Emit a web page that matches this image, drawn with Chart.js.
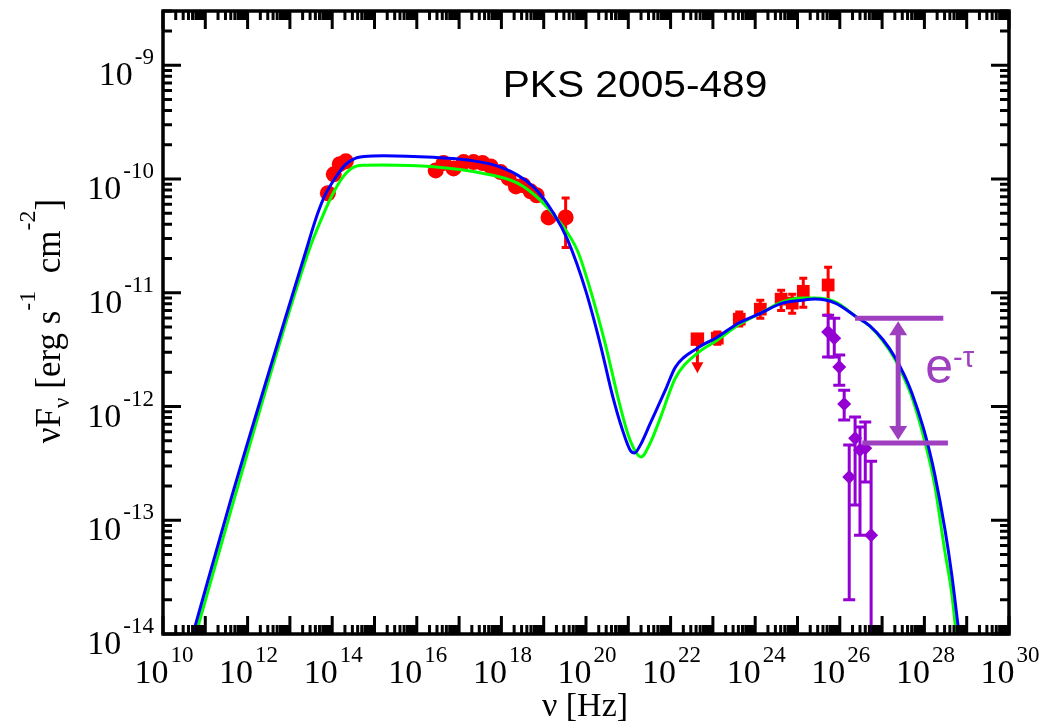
<!DOCTYPE html>
<html><head><meta charset="utf-8">
<script src="https://cdn.jsdelivr.net/npm/chart.js@4.4.1/dist/chart.umd.min.js"></script>
<style>html,body{margin:0;padding:0;background:#fff;} #wrap{width:1055px;height:724px;position:relative;}</style>
</head><body><div id="wrap"><canvas id="c" width="1055" height="724"></canvas></div>
<script>
// ---- model curves (nu [Hz], nuFnu [erg s^-1 cm^-2]) ----
const blueNu   = [5.1e10, 4.0e11, 2.4e13, 4.42e13, 6.82e13, 1.18e14, 2.03e14, 3.49e14, 8.8e14, 1.65e15, 2.5e16, 1.59e17, 9.6e17, 5.8e18, 1.71e19, 3.7e19, 9.8e19, 2.2e20, 4.2e20, 7.3e20, 1.12e21, 1.40e21, 1.94e21, 3.3e21, 7.5e21, 1.30e22, 4.3e22, 1.27e23, 3.99e23, 1.32e24, 4.4e24, 1.29e25, 2.6e25, 7.8e25, 2.52e26, 5.12e26, 1.04e27, 2.0e27, 3.44e27, 5.03e27, 9.14e27, 1.34e28, 1.76e28, 3.03e28, 4.44e28, 6.84e28];
const blueFlux = [1.0e-14, 1.51e-13, 2.34e-11, 4.84e-11, 7.24e-11, 1.02e-10, 1.33e-10, 1.52e-10, 1.59e-10, 1.6e-10, 1.55e-10, 1.47e-10, 1.27e-10, 8.5e-11, 5.0e-11, 2.9e-11, 1.05e-11, 3.47e-12, 1.26e-12, 6.2e-13, 4.1e-13, 3.9e-13, 4.6e-13, 7.1e-13, 1.39e-12, 2.22e-12, 3.26e-12, 4.07e-12, 5.4e-12, 6.6e-12, 8.1e-12, 8.6e-12, 8.8e-12, 8.1e-12, 6.1e-12, 5.12e-12, 3.88e-12, 2.73e-12, 1.85e-12, 1.32e-12, 6.75e-13, 3.95e-13, 2.52e-13, 8.5e-14, 3.31e-14, 8.9e-15];
const greenNu   = [6.0e10, 4.75e11, 2.8e13, 6.12e13, 1.0e14, 1.72e14, 2.96e14, 5.11e14, 1.6e15, 2.5e16, 3.8e17, 2.4e18, 8.4e18, 2.5e19, 6.3e19, 1.28e20, 2.9e20, 5.9e20, 1.0e21, 1.56e21, 2.0e21, 3.3e21, 5.7e21, 1.30e22, 4.3e22, 1.27e23, 3.99e23, 1.32e24, 4.4e24, 1.29e25, 2.6e25, 7.8e25, 2.52e26, 5.12e26, 1.04e27, 2.0e27, 3.44e27, 5.03e27, 9.14e27, 1.34e28, 1.76e28, 3.03e28, 4.44e28, 5.81e28];
const greenFlux = [1.0e-14, 1.51e-13, 2.34e-11, 4.84e-11, 7.24e-11, 1.02e-10, 1.25e-10, 1.32e-10, 1.33e-10, 1.28e-10, 1.12e-10, 9.2e-11, 6.5e-11, 4.1e-11, 2.34e-11, 1.05e-11, 3.47e-12, 1.14e-12, 5.6e-13, 3.9e-13, 3.6e-13, 4.78e-13, 7.9e-13, 1.78e-12, 2.94e-12, 3.83e-12, 5.2e-12, 6.6e-12, 8.3e-12, 9.0e-12, 9.0e-12, 8.3e-12, 6.1e-12, 5.08e-12, 3.78e-12, 2.62e-12, 1.73e-12, 1.22e-12, 5.82e-13, 3.27e-13, 2.02e-13, 5.4e-14, 2.26e-14, 8.9e-15];

// ---- optical / X-ray data (red circles) ----
const sxNu   = [7.9e13, 1.09e14, 1.51e14, 2.1e14, 2.8e16, 4.3e16, 7.4e16, 1.28e17, 2.2e17, 3.6e17, 5.6e17, 9.6e17, 1.48e18, 2.2e18, 3.3e18, 4.9e18, 6.8e18, 1.30e19, 3.3e19];
const sxFlux = [7.5e-11, 1.10e-10, 1.35e-10, 1.43e-10, 1.19e-10, 1.38e-10, 1.24e-10, 1.41e-10, 1.41e-10, 1.38e-10, 1.29e-10, 1.15e-10, 1.02e-10, 8.6e-11, 8.8e-11, 7.8e-11, 7.2e-11, 4.6e-11, 4.6e-11];
const sxErrNu = [3.3e19];
const sxErrLo = [2.5e-11];
const sxErrHi = [6.8e-11];

// ---- Fermi-LAT (red squares) ----
const latNu   = [1.27e23, 4.2e23, 1.32e24, 4.1e24, 7.5e24, 1.37e25, 5.3e25];
const latFlux = [3.99e-12, 5.86e-12, 7.18e-12, 8.79e-12, 8.11e-12, 1.03e-11, 1.17e-11];
const latLo   = [3.53e-12, 5.09e-12, 5.98e-12, 7.0e-12, 6.62e-12, 7.47e-12, 6.35e-12];
const latHi   = [4.51e-12, 6.76e-12, 8.6e-12, 1.05e-11, 9.7e-12, 1.34e-11, 1.68e-11];
const ulNu    = [4.3e22];
const ulFlux  = [3.91e-12];
const ulTo    = [1.96e-12];

// ---- H.E.S.S. (purple diamonds) ----
const hessNu   = [5.3e25, 7.4e25, 9.7e25, 1.27e26, 1.67e26, 2.3e26, 3.0e26, 4.0e26, 5.5e26];
const hessFlux = [4.51e-12, 3.99e-12, 2.22e-12, 1.05e-12, 2.4e-13, 5.27e-13, 4.14e-13, 4.3e-13, 7.4e-14];
const hessLo   = [2.72e-12, 2.72e-12, 1.54e-12, 7.6e-13, 2.0e-14, 1.36e-13, 7.4e-14, 2.17e-13, 1.0e-15];
const hessHi   = [6.35e-12, 5.98e-12, 2.83e-12, 1.39e-12, 4.58e-13, 8.07e-13, 6.59e-13, 7.3e-13, 3.31e-13];

// ---- axes / labels ----
const xTickExps = [10, 12, 14, 16, 18, 20, 22, 24, 26, 28, 30];
const yTickExps = [-14, -13, -12, -11, -10, -9];
const xRange = [1e10, 1e30];
const yRange = [1e-14, 3e-9];
const titleText = 'PKS 2005-489';

// ---- e^-tau annotation (data units) ----
const tauBracketNu = [[2.3e26, 2.8e28], [3.4e26, 3.6e28]];
const tauBracketFlux = [5.98e-12, 4.78e-13];
const tauArrowNu = 2.4e27;
const tauTextNu = 1.05e28;
const tauTextFlux = 1.61e-12;

const SERIF = '"Liberation Serif", "Times New Roman", serif';
const SANS = '"Liberation Sans", Arial, sans-serif';
const PURPLE = '#9400d3';
const ANN = '#9e3fc0';

const zip = (a, b) => a.map((v, i) => ({x: v, y: b[i]}));

const errPlugin = {
  id: 'errbars',
  beforeDatasetsDraw(chart) {
    const {ctx, chartArea: a, scales: {x, y}} = chart;
    ctx.save();
    ctx.beginPath(); ctx.rect(a.left, a.top, a.right - a.left, a.bottom - a.top); ctx.clip();
    function bar(nu, lo, hi, color, lw, cap) {
      const px = x.getPixelForValue(nu);
      const p1 = y.getPixelForValue(lo), p2 = y.getPixelForValue(hi);
      ctx.strokeStyle = color; ctx.lineWidth = lw;
      ctx.beginPath();
      ctx.moveTo(px, p1); ctx.lineTo(px, p2);
      ctx.moveTo(px - cap, p1); ctx.lineTo(px + cap, p1);
      ctx.moveTo(px - cap, p2); ctx.lineTo(px + cap, p2);
      ctx.stroke();
    }
    sxErrNu.forEach((n, i) => bar(n, sxErrLo[i], sxErrHi[i], '#ff0000', 3, 4));
    latNu.forEach((n, i) => bar(n, latLo[i], latHi[i], '#ff0000', 3, 4));
    hessNu.forEach((n, i) => bar(n, hessLo[i], hessHi[i], PURPLE, 3, 6));
    ulNu.forEach((n, i) => {
      const px = x.getPixelForValue(n);
      const p1 = y.getPixelForValue(ulFlux[i]), p2 = y.getPixelForValue(ulTo[i]);
      ctx.strokeStyle = '#ff0000'; ctx.fillStyle = '#ff0000'; ctx.lineWidth = 3;
      ctx.beginPath(); ctx.moveTo(px, p1); ctx.lineTo(px, p2 - 8); ctx.stroke();
      ctx.beginPath(); ctx.moveTo(px - 6, p2 - 11); ctx.lineTo(px + 6, p2 - 11); ctx.lineTo(px, p2); ctx.closePath(); ctx.fill();
    });
    ctx.restore();
  }
};

function powLabel(ctx, exp, x0, yBase, yExp, mode) {
  ctx.font = '34px ' + SERIF;
  const bw = ctx.measureText('10').width;
  ctx.font = '23px ' + SERIF;
  const ew = ctx.measureText(String(exp)).width;
  let bx;
  if (mode === 'right') bx = x0 - ew - 2 - bw;
  else bx = x0 - (bw + 2 + ew) / 2;
  ctx.textAlign = 'left';
  ctx.font = '34px ' + SERIF;
  ctx.fillText('10', bx, yBase);
  ctx.font = '23px ' + SERIF;
  ctx.fillText(String(exp), bx + bw + 2, yExp);
}

function runs(ctx, list, x0, y0) {
  let x = x0;
  list.forEach(r => {
    ctx.font = r[1] + 'px ' + r[3];
    ctx.fillText(r[0], x, y0 + r[2]);
    x += ctx.measureText(r[0]).width;
  });
}
function runsWidth(ctx, list) {
  let w = 0;
  list.forEach(r => { ctx.font = r[1] + 'px ' + r[3]; w += ctx.measureText(r[0]).width; });
  return w;
}

const framePlugin = {
  id: 'frame',
  afterDraw(chart) {
    const {ctx, chartArea: a, scales: {x, y}} = chart;
    ctx.save();
    ctx.strokeStyle = '#000'; ctx.lineWidth = 3; ctx.lineCap = 'butt';
    ctx.beginPath();
    for (let d = 10; d <= 30; d++) {
      for (let k = 1; k <= 9; k++) {
        if (d === 30 && k > 1) break;
        const px = x.getPixelForValue(k * Math.pow(10, d));
        const L = k === 1 ? 18 : 9;
        ctx.moveTo(px, a.bottom); ctx.lineTo(px, a.bottom - L);
        ctx.moveTo(px, a.top); ctx.lineTo(px, a.top + L);
      }
    }
    for (let d = -14; d <= -9; d++) {
      for (let k = 1; k <= 9; k++) {
        const v = k * Math.pow(10, d);
        if (v > yRange[1] * 1.001) break;
        const py = y.getPixelForValue(v);
        const L = k === 1 ? 18 : 9;
        ctx.moveTo(a.left, py); ctx.lineTo(a.left + L, py);
        ctx.moveTo(a.right, py); ctx.lineTo(a.right - L, py);
      }
    }
    ctx.stroke();
    ctx.lineWidth = 3.5;
    ctx.strokeRect(a.left, a.top, a.right - a.left, a.bottom - a.top);

    ctx.fillStyle = '#000';
    ctx.textBaseline = 'alphabetic';
    xTickExps.forEach(e => {
      const px = x.getPixelForValue(Math.pow(10, e));
      powLabel(ctx, e, px + 1, a.bottom + 49, a.bottom + 28, 'center');
    });
    yTickExps.forEach(e => {
      const py = y.getPixelForValue(Math.pow(10, e));
      powLabel(ctx, e, 154, py + 20, py - 1, 'right');
    });

    ctx.textAlign = 'left';
    const xt = [['ν [Hz]', 34, 0, SERIF]];
    const xw = runsWidth(ctx, xt);
    runs(ctx, xt, 585 - xw / 2, 716);

    const yt = [['ν', 35, 0, SERIF], ['F', 35, 0, SERIF], ['ν', 23, 9, SERIF], [' [erg s', 35, 0, SERIF],
                ['-1', 24, -25, SERIF], ['  cm', 35, 0, SERIF], ['-2', 24, -25, SERIF], [']', 35, 0, SERIF]];
    const yw = runsWidth(ctx, yt);
    ctx.save();
    ctx.translate(60, 321);
    ctx.rotate(-Math.PI / 2);
    runs(ctx, yt, -yw / 2, 0);
    ctx.restore();

    ctx.save();
    ctx.font = '37px ' + SANS;
    ctx.textAlign = 'center';
    ctx.translate(635, 97);
    ctx.scale(1.1, 1);
    ctx.fillText(titleText, 0, 0);
    ctx.restore();

    ctx.strokeStyle = ANN; ctx.fillStyle = ANN; ctx.lineWidth = 5;
    ctx.beginPath();
    tauBracketFlux.forEach((f, i) => {
      const py = y.getPixelForValue(f);
      ctx.moveTo(x.getPixelForValue(tauBracketNu[i][0]), py);
      ctx.lineTo(x.getPixelForValue(tauBracketNu[i][1]), py);
    });
    ctx.stroke();
    const ax = x.getPixelForValue(tauArrowNu);
    const ay1 = y.getPixelForValue(tauBracketFlux[0]) + 3;
    const ay2 = y.getPixelForValue(tauBracketFlux[1]) - 3;
    ctx.beginPath(); ctx.moveTo(ax, ay1 + 12); ctx.lineTo(ax, ay2 - 12); ctx.stroke();
    ctx.beginPath(); ctx.moveTo(ax, ay1); ctx.lineTo(ax - 9, ay1 + 14); ctx.lineTo(ax + 9, ay1 + 14); ctx.closePath(); ctx.fill();
    ctx.beginPath(); ctx.moveTo(ax, ay2); ctx.lineTo(ax - 9, ay2 - 14); ctx.lineTo(ax + 9, ay2 - 14); ctx.closePath(); ctx.fill();
    const tx = x.getPixelForValue(tauTextNu), ty = y.getPixelForValue(tauTextFlux);
    ctx.textAlign = 'left';
    runs(ctx, [['e', 50, 0, SANS], ['-τ', 29, -16, SANS]], tx, ty);
    ctx.restore();
  }
};

new Chart(document.getElementById('c'), {
  type: 'scatter',
  data: {
    datasets: [
      {data: zip(blueNu, blueFlux), showLine: true, borderColor: '#0000ff', borderWidth: 3, pointRadius: 0, cubicInterpolationMode: 'monotone', order: 0},
      {data: zip(greenNu, greenFlux), showLine: true, borderColor: '#00ff00', borderWidth: 3, pointRadius: 0, cubicInterpolationMode: 'monotone', order: 1},
      {data: zip(sxNu, sxFlux), pointStyle: 'circle', pointRadius: 8, backgroundColor: '#ff0000', borderWidth: 0, order: 3},
      {data: zip(latNu, latFlux), pointStyle: 'rect', pointRadius: 9, backgroundColor: '#ff0000', borderWidth: 0, order: 3},
      {data: zip(ulNu, ulFlux), pointStyle: 'rect', pointRadius: 9.5, backgroundColor: '#ff0000', borderWidth: 0, order: 3},
      {data: zip(hessNu, hessFlux), pointStyle: 'rectRot', pointRadius: 7, backgroundColor: PURPLE, borderWidth: 0, order: 2}
    ]
  },
  options: {
    responsive: false, maintainAspectRatio: false, animation: false, devicePixelRatio: 1,
    layout: {padding: {left: 163, right: 46, top: 11, bottom: 90}},
    plugins: {legend: {display: false}, tooltip: {enabled: false}},
    scales: {
      x: {type: 'logarithmic', min: xRange[0], max: xRange[1], display: false},
      y: {type: 'logarithmic', min: yRange[0], max: yRange[1], display: false}
    }
  },
  plugins: [errPlugin, framePlugin]
});
</script></body></html>
